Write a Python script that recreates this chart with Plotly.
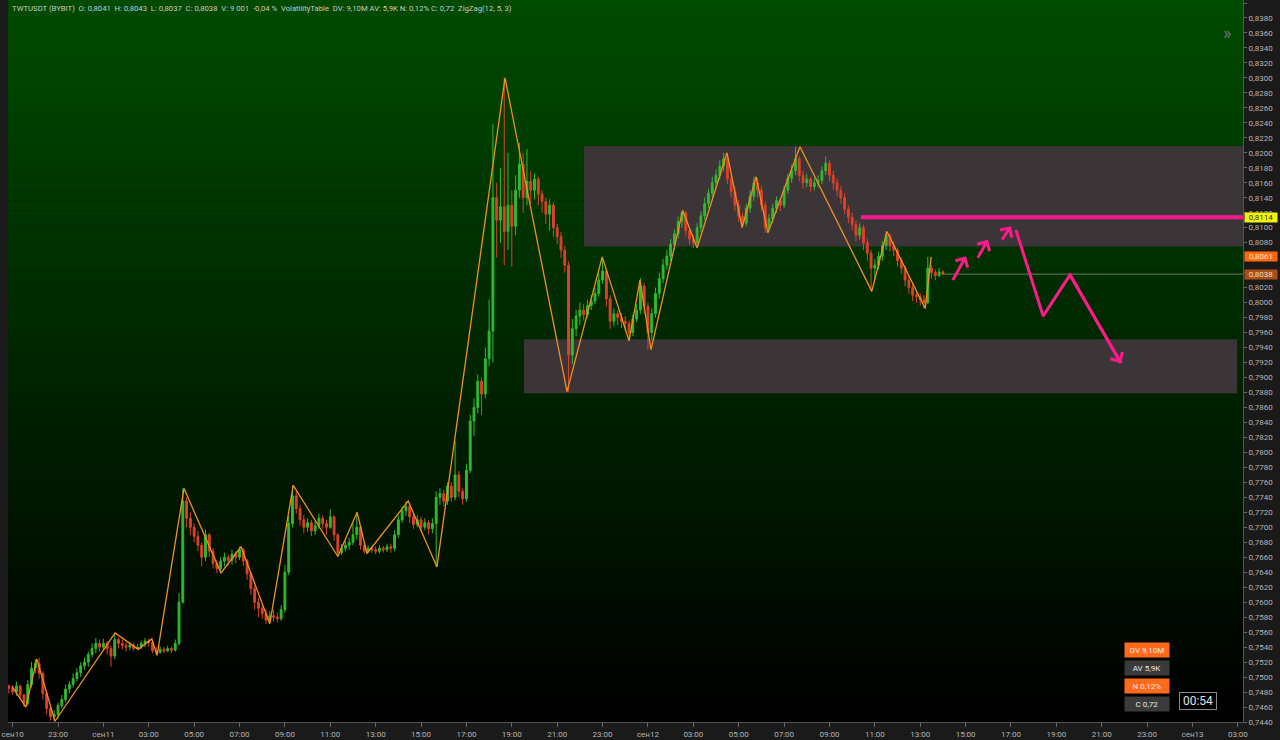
import pandas as pd
import plotly.graph_objects as go

# ---------------- data (10-minute bars) ----------------
bar_start = "2024-09-10 20:50"
first_open = 0.7488

close = [
 0.7485,
 0.7480, 0.7488, 0.7476, 0.7465, 0.7490, 0.7512,
 0.7518, 0.7505, 0.7478, 0.7458, 0.7447, 0.7450,
 0.7462, 0.7470, 0.7484, 0.7490, 0.7498, 0.7506,
 0.7515, 0.7520, 0.7530, 0.7538, 0.7545, 0.7540,
 0.7545, 0.7538, 0.7528, 0.7550, 0.7545, 0.7542,
 0.7540, 0.7543, 0.7538, 0.7540, 0.7545, 0.7548,
 0.7546, 0.7535, 0.7533, 0.7537, 0.7535, 0.7538,
 0.7536, 0.7545, 0.7600, 0.7735, 0.7712, 0.7700,
 0.7688, 0.7676, 0.7660, 0.7690, 0.7668, 0.7652,
 0.7645, 0.7655, 0.7660, 0.7656, 0.7664, 0.7660,
 0.7670, 0.7655, 0.7638, 0.7618, 0.7600, 0.7592,
 0.7585, 0.7576, 0.7582, 0.7580, 0.7578, 0.7590,
 0.7640, 0.7705, 0.7742, 0.7725, 0.7710, 0.7700,
 0.7706, 0.7695, 0.7702, 0.7712, 0.7705, 0.7700,
 0.7714, 0.7690, 0.7666, 0.7672, 0.7676, 0.7680,
 0.7690, 0.7700, 0.7676, 0.7668, 0.7672, 0.7670,
 0.7668, 0.7672, 0.7670, 0.7674, 0.7672, 0.7690,
 0.7710, 0.7722, 0.7728, 0.7714, 0.7704, 0.7710,
 0.7700, 0.7706, 0.7698, 0.7705, 0.7740, 0.7745,
 0.7735, 0.7755, 0.7740, 0.7770, 0.7748, 0.7738,
 0.7776, 0.7842, 0.7860, 0.7895, 0.7878, 0.7925,
 0.7962, 0.8140, 0.8110, 0.8128, 0.8095, 0.8130,
 0.8102, 0.8150, 0.8185, 0.8140, 0.8162, 0.8150,
 0.8165, 0.8145, 0.8135, 0.8118, 0.8130, 0.8100,
 0.8088, 0.8070, 0.8050, 0.7930, 0.7965, 0.7982,
 0.7990, 0.7984, 0.7996, 0.8002, 0.8012, 0.8030,
 0.8042, 0.8005, 0.7975, 0.7985, 0.7980, 0.7975,
 0.7972, 0.7960, 0.7978, 0.7990, 0.8022, 0.7995,
 0.7960, 0.7985, 0.8012, 0.8032, 0.8050, 0.8062,
 0.8078, 0.8092, 0.8108, 0.8120, 0.8096, 0.8085,
 0.8080, 0.8100, 0.8116, 0.8132, 0.8146, 0.8160,
 0.8170, 0.8182, 0.8192, 0.8165, 0.8148, 0.8130,
 0.8115, 0.8106, 0.8126, 0.8142, 0.8160, 0.8150,
 0.8130, 0.8100, 0.8112, 0.8126, 0.8136, 0.8130,
 0.8150, 0.8166, 0.8176, 0.8192, 0.8170, 0.8160,
 0.8165, 0.8155, 0.8160, 0.8163, 0.8176, 0.8186,
 0.8170, 0.8160, 0.8150, 0.8140, 0.8125, 0.8114,
 0.8104, 0.8090, 0.8100, 0.8080, 0.8066, 0.8046,
 0.8050, 0.8062, 0.8076, 0.8090, 0.8076, 0.8070,
 0.8056, 0.8046, 0.8030, 0.8020, 0.8010, 0.8008,
 0.8004, 0.8000, 0.8046, 0.8040, 0.8036, 0.8041,
 0.8038,
]

high = [
 0.7490,
 0.7489, 0.7494, 0.7490, 0.7478, 0.7496, 0.7520,
 0.7524, 0.7526, 0.7508, 0.7482, 0.7462, 0.7456,
 0.7466, 0.7476, 0.7490, 0.7495, 0.7505, 0.7512,
 0.7520, 0.7526, 0.7534, 0.7545, 0.7552, 0.7550,
 0.7551, 0.7548, 0.7542, 0.7559, 0.7553, 0.7550,
 0.7546, 0.7547, 0.7546, 0.7544, 0.7549, 0.7552,
 0.7551, 0.7549, 0.7540, 0.7541, 0.7540, 0.7542,
 0.7541, 0.7550, 0.7612, 0.7752, 0.7740, 0.7720,
 0.7705, 0.7695, 0.7680, 0.7697, 0.7692, 0.7672,
 0.7656, 0.7660, 0.7666, 0.7664, 0.7670, 0.7668,
 0.7674, 0.7672, 0.7658, 0.7640, 0.7622, 0.7606,
 0.7598, 0.7590, 0.7588, 0.7590, 0.7586, 0.7596,
 0.7650, 0.7715, 0.7756, 0.7748, 0.7730, 0.7716,
 0.7712, 0.7710, 0.7708, 0.7718, 0.7716, 0.7710,
 0.7724, 0.7716, 0.7692, 0.7678, 0.7682, 0.7686,
 0.7706, 0.7720, 0.7702, 0.7680, 0.7676, 0.7675,
 0.7674, 0.7676, 0.7675, 0.7678, 0.7678, 0.7696,
 0.7716, 0.7728, 0.7735, 0.7732, 0.7718, 0.7716,
 0.7714, 0.7712, 0.7710, 0.7712, 0.7748, 0.7752,
 0.7750, 0.7760, 0.7760, 0.7815, 0.7775, 0.7752,
 0.7785, 0.7850, 0.7872, 0.7904, 0.7900, 0.7940,
 0.8004, 0.8239, 0.8160, 0.8180, 0.8300, 0.8200,
 0.8150, 0.8170, 0.8213, 0.8200, 0.8205, 0.8175,
 0.8172, 0.8168, 0.8150, 0.8140, 0.8138, 0.8134,
 0.8105, 0.8094, 0.8076, 0.8055, 0.7978, 0.7990,
 0.8000, 0.7998, 0.8004, 0.8010, 0.8020, 0.8040,
 0.8061, 0.8045, 0.8010, 0.7992, 0.7990, 0.7986,
 0.7982, 0.7976, 0.7984, 0.7998, 0.8033, 0.8026,
 0.8000, 0.7992, 0.8020, 0.8040, 0.8058, 0.8070,
 0.8085, 0.8098, 0.8115, 0.8123, 0.8122, 0.8100,
 0.8090, 0.8106, 0.8122, 0.8140, 0.8152, 0.8168,
 0.8178, 0.8190, 0.8200, 0.8198, 0.8170, 0.8155,
 0.8136, 0.8120, 0.8132, 0.8150, 0.8168, 0.8166,
 0.8156, 0.8135, 0.8118, 0.8132, 0.8142, 0.8140,
 0.8156, 0.8172, 0.8184, 0.8208, 0.8196, 0.8176,
 0.8172, 0.8168, 0.8166, 0.8170, 0.8182, 0.8195,
 0.8190, 0.8176, 0.8166, 0.8156, 0.8146, 0.8130,
 0.8120, 0.8110, 0.8106, 0.8104, 0.8086, 0.8070,
 0.8058, 0.8068, 0.8082, 0.8095, 0.8092, 0.8082,
 0.8074, 0.8060, 0.8050, 0.8036, 0.8026, 0.8016,
 0.8012, 0.8010, 0.8061, 0.8050, 0.8044, 0.8046,
 0.8043,
]

low = [
 0.7478,
 0.7476, 0.7475, 0.7470, 0.7460, 0.7462, 0.7486,
 0.7505, 0.7498, 0.7470, 0.7450, 0.7442, 0.7441,
 0.7444, 0.7458, 0.7466, 0.7478, 0.7486, 0.7494,
 0.7500, 0.7510, 0.7514, 0.7526, 0.7532, 0.7534,
 0.7536, 0.7530, 0.7514, 0.7524, 0.7538, 0.7537,
 0.7534, 0.7536, 0.7535, 0.7537, 0.7537, 0.7540,
 0.7540, 0.7532, 0.7529, 0.7531, 0.7532, 0.7533,
 0.7532, 0.7534, 0.7542, 0.7598, 0.7700, 0.7690,
 0.7680, 0.7668, 0.7648, 0.7655, 0.7660, 0.7645,
 0.7639, 0.7640, 0.7648, 0.7648, 0.7650, 0.7652,
 0.7656, 0.7648, 0.7630, 0.7610, 0.7590, 0.7580,
 0.7578, 0.7571, 0.7572, 0.7574, 0.7573, 0.7575,
 0.7586, 0.7636, 0.7700, 0.7718, 0.7702, 0.7692,
 0.7694, 0.7688, 0.7690, 0.7698, 0.7698, 0.7690,
 0.7698, 0.7682, 0.7661, 0.7663, 0.7668, 0.7670,
 0.7676, 0.7684, 0.7670, 0.7665, 0.7666, 0.7666,
 0.7664, 0.7665, 0.7666, 0.7667, 0.7666, 0.7668,
 0.7686, 0.7706, 0.7715, 0.7706, 0.7698, 0.7700,
 0.7694, 0.7696, 0.7690, 0.7692, 0.7647, 0.7730,
 0.7728, 0.7730, 0.7734, 0.7736, 0.7740, 0.7730,
 0.7734, 0.7772, 0.7822, 0.7852, 0.7850, 0.7872,
 0.7915, 0.7920, 0.8060, 0.8080, 0.8050, 0.8070,
 0.8048, 0.8090, 0.8140, 0.8120, 0.8130, 0.8132,
 0.8138, 0.8130, 0.8120, 0.8105, 0.8096, 0.8088,
 0.8078, 0.8060, 0.8040, 0.7881, 0.7918, 0.7955,
 0.7970, 0.7976, 0.7980, 0.7990, 0.7998, 0.8008,
 0.8025, 0.7995, 0.7965, 0.7968, 0.7970, 0.7966,
 0.7962, 0.7949, 0.7955, 0.7974, 0.7985, 0.7985,
 0.7937, 0.7950, 0.7980, 0.8005, 0.8026, 0.8044,
 0.8055, 0.8070, 0.8086, 0.8100, 0.8088, 0.8078,
 0.8073, 0.8076, 0.8094, 0.8110, 0.8126, 0.8140,
 0.8152, 0.8164, 0.8175, 0.8158, 0.8140, 0.8122,
 0.8108, 0.8100, 0.8102, 0.8120, 0.8136, 0.8140,
 0.8122, 0.8093, 0.8095, 0.8106, 0.8120, 0.8122,
 0.8126, 0.8145, 0.8160, 0.8170, 0.8162, 0.8152,
 0.8154, 0.8148, 0.8150, 0.8154, 0.8158, 0.8170,
 0.8162, 0.8150, 0.8142, 0.8132, 0.8118, 0.8106,
 0.8096, 0.8082, 0.8084, 0.8070, 0.8056, 0.8015,
 0.8030, 0.8044, 0.8056, 0.8070, 0.8068, 0.8062,
 0.8048, 0.8038, 0.8022, 0.8012, 0.8002, 0.8000,
 0.7996, 0.7992, 0.7998, 0.8032, 0.8030, 0.8034,
 0.8037,
]

# ZigZag(12, 5, 3) pivots
zz_time = ["2024-09-10 20:58", "2024-09-10 21:35", "2024-09-10 22:04", "2024-09-10 22:52",
           "2024-09-11 01:31", "2024-09-11 02:32", "2024-09-11 03:08", "2024-09-11 03:22",
           "2024-09-11 04:33", "2024-09-11 06:11", "2024-09-11 07:04", "2024-09-11 08:20",
           "2024-09-11 09:22", "2024-09-11 11:20", "2024-09-11 12:11", "2024-09-11 12:37",
           "2024-09-11 14:26", "2024-09-11 15:42", "2024-09-11 18:42", "2024-09-11 21:26",
           "2024-09-11 22:59", "2024-09-12 00:10", "2024-09-12 00:39", "2024-09-12 01:08",
           "2024-09-12 02:32", "2024-09-12 03:10", "2024-09-12 04:29", "2024-09-12 05:09",
           "2024-09-12 05:46", "2024-09-12 06:17", "2024-09-12 07:42", "2024-09-12 10:52",
           "2024-09-12 11:32", "2024-09-12 13:13", "2024-09-12 13:29"]
zz_value = [0.7488, 0.7460, 0.7524, 0.7441, 0.7559, 0.7537, 0.7551, 0.7529, 0.7752, 0.7639,
            0.7674, 0.7571, 0.7756, 0.7661, 0.7720, 0.7665, 0.7735, 0.7647, 0.8300, 0.7881,
            0.8061, 0.7949, 0.8030, 0.7937, 0.8123, 0.8073, 0.8200, 0.8100, 0.8168, 0.8093,
            0.8208, 0.8015, 0.8095, 0.7992, 0.8061]

# zones
zone_upper = {"x0": "2024-09-11 22:11", "y0": 0.8075, "y1": 0.8209}
zone_lower = {"x0": "2024-09-11 19:32", "x1": "2024-09-13 02:58", "y0": 0.7879, "y1": 0.7951}
level_price = 0.8114
level_start = "2024-09-12 10:23"
last_price = 0.8038
orange_price = 0.8061

# hand-drawn arrows
arrow_tail_t = ["2024-09-12 14:24", "2024-09-12 15:30", "2024-09-12 16:34"]
arrow_tail_v = [0.8028, 0.8058, 0.8082]
arrow_head_t = ["2024-09-12 15:01", "2024-09-12 15:59", "2024-09-12 17:00"]
arrow_head_v = [0.8062, 0.8084, 0.8102]
path_t = ["2024-09-12 17:13", "2024-09-12 18:25", "2024-09-12 19:36", "2024-09-12 21:51"]
path_v = [0.8097, 0.7982, 0.8037, 0.7919]

tick_times = ["2024-09-10 21:00", "2024-09-10 23:00"] + \
    [f"2024-09-11 {h:02d}:00" for h in range(1, 24, 2)] + \
    [f"2024-09-12 {h:02d}:00" for h in range(1, 24, 2)] + \
    ["2024-09-13 01:00", "2024-09-13 03:00"]
tick_labels = ["сен10", "23:00",
               "сен11", "03:00", "05:00", "07:00", "09:00", "11:00", "13:00", "15:00", "17:00", "19:00", "21:00", "23:00",
               "сен12", "03:00", "05:00", "07:00", "09:00", "11:00", "13:00", "15:00", "17:00", "19:00", "21:00", "23:00",
               "сен13", "03:00"]

header = ("TWTUSDT (BYBIT)\u00a0 O: 0,8041\u00a0 H: 0,8043\u00a0 L: 0,8037\u00a0 C: 0,8038\u00a0 V: 9 001\u00a0 -0,04 %"
          "\u00a0 VolatilityTable\u00a0 DV: 9,10M AV: 5,9K N: 0,12% C: 0,72\u00a0 ZigZag(12, 5, 3)")
vt_labels = ["DV 9,10M", "AV 5,9K", "N 0,12%", "C 0,72"]
timer_label = "00:54"

# ---------------- build ----------------
times = pd.date_range(bar_start, periods=len(close), freq="10min")
opens = [first_open] + close[:-1]
highs = [max(h, o, c) for h, o, c in zip(high, opens, close)]
lows = [min(l, o, c) for l, o, c in zip(low, opens, close)]

X0 = "2024-09-10 20:47:45"
X1 = "2024-09-13 03:13:30"
Y0, Y1 = 0.7440, 0.8404
PLOT_W, PLOT_H, ML, MT = 1235, 722, 8, 0


def px_x(p):
    return (p - ML) / PLOT_W


def px_y(p):
    return (PLOT_H - (p - MT)) / PLOT_H


FONT = "Roboto"
fig = go.Figure()

fig.add_trace(go.Candlestick(
    x=times, open=opens, high=highs, low=lows, close=close,
    increasing=dict(line=dict(color="#32b832", width=1), fillcolor="#32b832"),
    decreasing=dict(line=dict(color="#e0402a", width=1), fillcolor="#e0402a"),
    whiskerwidth=0, showlegend=False, hoverinfo="skip"))

fig.add_trace(go.Scatter(x=zz_time, y=zz_value, mode="lines",
                         line=dict(color="#f0901e", width=1.3), showlegend=False, hoverinfo="skip"))

fig.add_trace(go.Scatter(x=path_t, y=path_v, mode="lines",
                         line=dict(color="#ff1a8c", width=3), showlegend=False, hoverinfo="skip"))

shapes = []
N = 72
for k in range(N):
    f0, f1 = k / N, (k + 1) / N
    ymid = (f0 + f1) / 2 * PLOT_H
    g = max(0.0, 75 * (1 - ymid / 715))
    shapes.append(dict(type="rect", xref="paper", yref="paper", x0=0, x1=1,
                       y0=1 - f1, y1=1 - f0 + 0.0005, line=dict(width=0),
                       fillcolor=f"rgb(0,{int(round(g))},0)", layer="below"))
shapes.append(dict(type="rect", xref="x", yref="y", x0=zone_upper["x0"], x1=X1,
                   y0=zone_upper["y0"], y1=zone_upper["y1"], line=dict(width=0),
                   fillcolor="#3b3538", layer="below"))
shapes.append(dict(type="rect", xref="x", yref="y", x0=zone_lower["x0"], x1=zone_lower["x1"],
                   y0=zone_lower["y0"], y1=zone_lower["y1"], line=dict(width=0),
                   fillcolor="#3b3538", layer="below"))
shapes.append(dict(type="line", xref="x", yref="y", x0=times[-1], x1=X1,
                   y0=last_price, y1=last_price, line=dict(color="rgba(190,190,190,0.55)", width=1),
                   layer="below"))
shapes.append(dict(type="line", xref="x", yref="y", x0=level_start, x1=X1,
                   y0=level_price, y1=level_price, line=dict(color="#ff1a8c", width=4)))

annotations = []
for tt, tv, ht, hv in zip(arrow_tail_t, arrow_tail_v, arrow_head_t, arrow_head_v):
    annotations.append(dict(x=ht, y=hv, ax=tt, ay=tv, xref="x", yref="y", axref="x", ayref="y",
                            showarrow=True, arrowhead=4, arrowsize=0.9, arrowwidth=3,
                            arrowcolor="#ff1a8c", text=""))
annotations.append(dict(x=path_t[-1], y=path_v[-1], ax=path_t[-2], ay=path_v[-2],
                        xref="x", yref="y", axref="x", ayref="y",
                        showarrow=True, arrowhead=4, arrowsize=0.9, arrowwidth=3,
                        arrowcolor="#ff1a8c", text=""))

annotations.append(dict(x=px_x(10), y=px_y(9), xref="paper", yref="paper", xanchor="left",
                        yanchor="middle", text=header, showarrow=False,
                        font=dict(family=FONT, size=7.7, color="#c9c9c9")))
annotations.append(dict(x=px_x(1233), y=px_y(20), xref="paper", yref="paper", text="»",
                        showarrow=False, font=dict(family=FONT, size=18, color="#6f6f6f")))

for val, bg, fg in [(level_price, "#f2f20a", "#333333"),
                    (orange_price, "#ff6a10", "#ffe2c8"),
                    (last_price, "#a8501a", "#f0d8c0")]:
    annotations.append(dict(x=px_x(1244), y=val, xref="paper", yref="y", xanchor="left",
                            yanchor="middle", text=f"{val:.4f}".replace(".", ","),
                            showarrow=False, bgcolor=bg, width=32, height=9, borderpad=0,
                            font=dict(family=FONT, size=8, color=fg)))

for lab, cy, bg in zip(vt_labels, [658, 676, 694, 711.5], ["#ff6a1a", "#3a3a3a", "#ff6a1a", "#3a3a3a"]):
    annotations.append(dict(x=px_x(1169.5), y=px_y(cy), xref="paper", yref="paper",
                            text=lab, showarrow=False, bgcolor=bg, width=44, height=14, borderpad=0,
                            font=dict(family=FONT, size=8, color="#e8e8e8")))
annotations.append(dict(x=px_x(1217), y=px_y(710), xref="paper", yref="paper", text=timer_label,
                        showarrow=False, bgcolor="#000000", bordercolor="#8a8a8a", borderwidth=1,
                        width=36, height=16, borderpad=0,
                        font=dict(family=FONT, size=12, color="#e0e0e0")))

fig.update_layout(
    width=1280, height=740,
    margin=dict(l=ML, r=1280 - ML - PLOT_W, t=MT, b=740 - MT - PLOT_H, pad=0),
    paper_bgcolor="#1a1a1a", plot_bgcolor="#000000",
    separators=", ",
    shapes=shapes, annotations=annotations,
    font=dict(family=FONT, size=8, color="#b5b5b5"),
    xaxis=dict(type="date", range=[X0, X1], tickvals=tick_times, ticktext=tick_labels,
               showgrid=False, zeroline=False, showline=True, linecolor="#555555",
               ticks="outside", ticklen=4, tickcolor="#666666",
               tickfont=dict(family=FONT, size=8, color="#b5b5b5"),
               rangeslider=dict(visible=False), fixedrange=True),
    yaxis=dict(side="right", range=[Y0, Y1], dtick=0.002, tick0=0.744, tickformat=".4f",
               showgrid=False, zeroline=False, showline=True, linecolor="#555555",
               ticks="outside", ticklen=3, tickcolor="#666666",
               tickfont=dict(family=FONT, size=8, color="#b5b5b5"), fixedrange=True),
    hovermode=False,
)

fig.write_html("out.html",
               config={"displayModeBar": False, "staticPlot": True},
               post_script="document.body.style.margin='0';document.body.style.overflow='hidden';"
                           "document.body.style.background='#1a1a1a';")
